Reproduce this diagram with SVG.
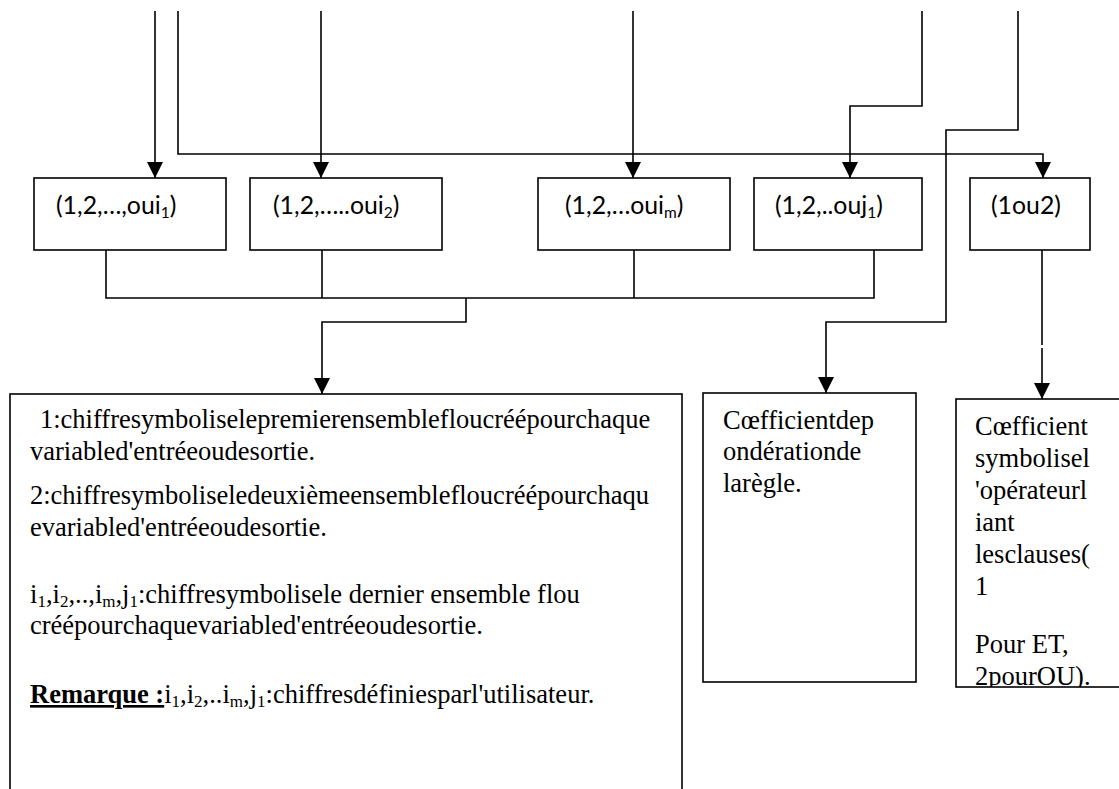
<svg xmlns="http://www.w3.org/2000/svg" width="1119" height="789" viewBox="0 0 1119 789">
<style>
  .box { fill: #ffffff; stroke: #000000; stroke-width: 1.6; }
  .wire { fill: none; stroke: #000000; stroke-width: 1.6; }
  .lbl { font-family: Lato, "Liberation Sans", sans-serif; font-size: 24.8px; fill: #000000; }
  .lsub { font-size: 15.5px; }
  .txt { font-family: "Liberation Serif", "Times New Roman", serif; font-size: 26.5px; fill: #000000; }
  .sub { font-size: 17px; }
</style>
<defs>
  <marker id="ah" markerWidth="16" markerHeight="16" refX="16" refY="8" orient="auto" markerUnits="userSpaceOnUse" viewBox="0 0 16 16">
    <path d="M0,0 L16,8 L0,16 z" fill="#000000"/>
  </marker>
  <clipPath id="clipR2"><rect x="956" y="399" width="170" height="288"/></clipPath>
</defs>
<rect width="1119" height="789" fill="#ffffff"/>

<g id="connectors">
  <path class="wire" d="M155,11 V178" marker-end="url(#ah)"/>
  <path class="wire" d="M178,11 V154 H1043 V178" marker-end="url(#ah)"/>
  <path class="wire" d="M321,11 V178" marker-end="url(#ah)"/>
  <path class="wire" d="M633,11 V178" marker-end="url(#ah)"/>
  <path class="wire" d="M922,11 V106 H850 V178" marker-end="url(#ah)"/>
  <path class="wire" d="M1018,11 V130 H946 V322 H826 V393" marker-end="url(#ah)"/>
  <path class="wire" d="M106,250 V298 H874 V250"/>
  <path class="wire" d="M322,250 V298"/>
  <path class="wire" d="M634,250 V298"/>
  <path class="wire" d="M466,298 V322 H322 V394" marker-end="url(#ah)"/>
  <path class="wire" d="M1042,250 V345"/>
  <path class="wire" d="M1042,348 V399" marker-end="url(#ah)"/>
</g>

<g id="node-oui1">
  <rect class="box" x="34" y="178" width="192" height="72"/>
  <text class="lbl" x="56" y="214">(1,2,…,oui<tspan class="lsub" dy="4">1</tspan><tspan dy="-4">)</tspan></text>
</g>
<g id="node-oui2">
  <rect class="box" x="250" y="178" width="192" height="72"/>
  <text class="lbl" x="273" y="214">(1,2,…..oui<tspan class="lsub" dy="4">2</tspan><tspan dy="-4">)</tspan></text>
</g>
<g id="node-ouim">
  <rect class="box" x="538" y="178" width="192" height="72"/>
  <text class="lbl" x="565" y="214">(1,2,…oui<tspan class="lsub" dy="4">m</tspan><tspan dy="-4">)</tspan></text>
</g>
<g id="node-ouj1">
  <rect class="box" x="754" y="178" width="168" height="72"/>
  <text class="lbl" x="775" y="214">(1,2,..ouj<tspan class="lsub" dy="4">1</tspan><tspan dy="-4">)</tspan></text>
</g>
<g id="node-1ou2">
  <rect class="box" x="970" y="178" width="120" height="72"/>
  <text class="lbl" x="991" y="214">(1ou2)</text>
</g>

<g id="node-legend">
  <rect class="box" x="10" y="394" width="672" height="420"/>
  <text class="txt" x="40" y="428">1:chiffresymboliselepremierensemblefloucréépourchaque</text>
  <text class="txt" x="30" y="460">variabled'entréeoudesortie.</text>
  <text class="txt" x="30" y="504">2:chiffresymboliseledeuxièmeensemblefloucréépourchaqu</text>
  <text class="txt" x="30" y="536">evariabled'entréeoudesortie.</text>
  <text class="txt" x="30" y="603">i<tspan class="sub" dy="4">1</tspan><tspan dy="-4">,i</tspan><tspan class="sub" dy="4">2</tspan><tspan dy="-4">,..,i</tspan><tspan class="sub" dy="4">m</tspan><tspan dy="-4">,j</tspan><tspan class="sub" dy="4">1</tspan><tspan dy="-4">:chiffresymbolisele dernier ensemble flou</tspan></text>
  <text class="txt" x="30" y="634">créépourchaquevariabled'entréeoudesortie.</text>
  <text class="txt" x="30" y="703"><tspan font-weight="bold" text-decoration="underline">Remarque :</tspan>i<tspan class="sub" dy="4">1</tspan><tspan dy="-4">,i</tspan><tspan class="sub" dy="4">2</tspan><tspan dy="-4">,..i</tspan><tspan class="sub" dy="4">m</tspan><tspan dy="-4">,j</tspan><tspan class="sub" dy="4">1</tspan><tspan dy="-4">:chiffresdéfiniesparl'utilisateur.</tspan></text>
</g>

<g id="node-ponderation">
  <rect class="box" x="703" y="393" width="213" height="289"/>
  <text class="txt" x="723" y="429">Cœfficientdep</text>
  <text class="txt" x="723" y="460">ondérationde</text>
  <text class="txt" x="723" y="492">larègle.</text>
</g>

<g id="node-operateur">
  <rect class="box" x="956" y="399" width="170" height="288"/>
  <g clip-path="url(#clipR2)">
    <text class="txt" x="975" y="435">Cœfficient</text>
    <text class="txt" x="975" y="467">symbolisel</text>
    <text class="txt" x="975" y="499">'opérateurl</text>
    <text class="txt" x="975" y="531">iant</text>
    <text class="txt" x="975" y="563">lesclauses(</text>
    <text class="txt" x="975" y="595">1</text>
    <text class="txt" x="975" y="653">Pour ET,</text>
    <text class="txt" x="975" y="685">2pourOU).</text>
  </g>
</g>
</svg>
